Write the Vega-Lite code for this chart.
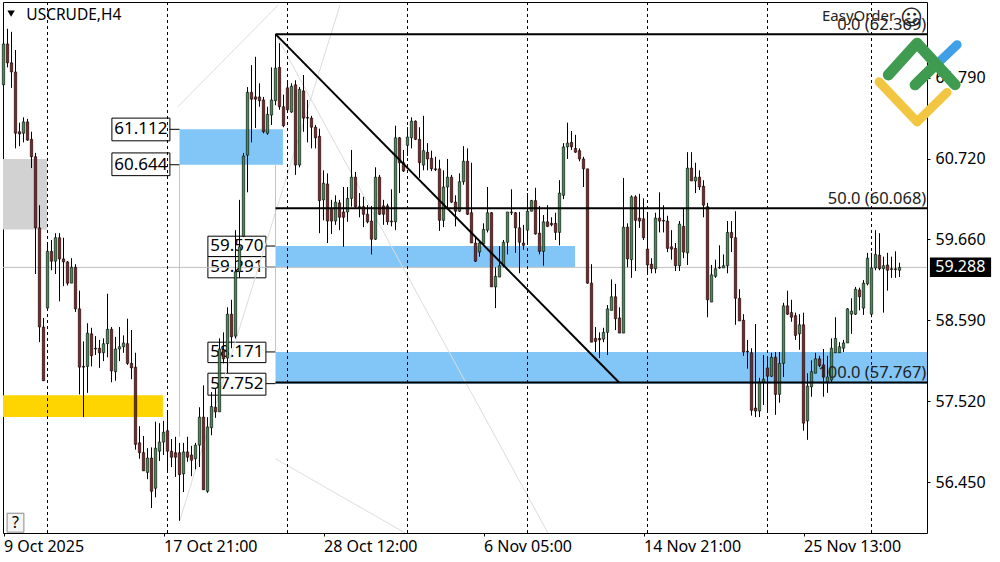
{"$schema":"https://vega.github.io/schema/vega-lite/v6.json","width":924,"height":531,"autosize":{"type":"none"},"padding":{"left":3,"top":2,"right":73,"bottom":29},"background":"#ffffff","view":{"stroke":"#000000","strokeWidth":1,"fill":"#ffffff"},"config":{"font":"Noto Sans"},
"datasets":{
"candles":[
{"i":0,"o":61.70,"h":62.25,"l":61.58,"c":62.24},{"i":1,"o":62.24,"h":62.44,"l":61.93,"c":61.99},{"i":2,"o":61.99,"h":62.40,"l":61.66,"c":61.87},{"i":3,"o":61.87,"h":62.16,"l":60.86,"c":61.06},{"i":4,"o":61.08,"h":61.20,"l":60.89,"c":61.05},{"i":5,"o":61.06,"h":61.27,"l":60.94,"c":61.21},{"i":6,"o":61.21,"h":61.25,"l":60.96,"c":60.97},{"i":7,"o":60.98,"h":61.08,"l":60.60,"c":60.75},{"i":8,"o":60.75,"h":60.80,"l":59.20,"c":59.81},{"i":9,"o":59.81,"h":60.11,"l":58.30,"c":58.50},
{"i":10,"o":58.50,"h":58.62,"l":57.79,"c":57.79},{"i":11,"o":58.75,"h":59.61,"l":58.72,"c":59.50},{"i":12,"o":59.50,"h":59.65,"l":59.25,"c":59.37},{"i":13,"o":59.37,"h":59.74,"l":59.20,"c":59.68},{"i":14,"o":59.68,"h":59.74,"l":58.84,"c":59.40},{"i":15,"o":59.40,"h":59.68,"l":59.04,"c":59.36},{"i":16,"o":59.36,"h":59.37,"l":59.05,"c":59.08},{"i":17,"o":59.08,"h":59.41,"l":59.08,"c":59.29},{"i":18,"o":59.29,"h":59.33,"l":58.70,"c":58.74},{"i":19,"o":58.74,"h":58.98,"l":57.61,"c":57.97},
{"i":20,"o":57.98,"h":58.31,"l":57.31,"c":57.97},{"i":21,"o":57.98,"h":58.55,"l":57.63,"c":58.42},{"i":22,"o":58.41,"h":58.49,"l":57.98,"c":58.12},{"i":23,"o":58.22,"h":58.38,"l":58.13,"c":58.21},{"i":24,"o":58.22,"h":58.33,"l":57.96,"c":58.16},{"i":25,"o":58.16,"h":58.35,"l":58.05,"c":58.28},{"i":26,"o":58.28,"h":58.94,"l":58.10,"c":58.47},{"i":27,"o":58.47,"h":58.50,"l":57.77,"c":57.92},{"i":28,"o":57.91,"h":58.37,"l":57.79,"c":58.21},{"i":29,"o":58.21,"h":58.50,"l":58.05,"c":58.24},
{"i":30,"o":58.24,"h":58.39,"l":58.16,"c":58.29},{"i":31,"o":58.28,"h":58.61,"l":58.00,"c":58.02},{"i":32,"o":58.02,"h":58.46,"l":57.81,"c":57.96},{"i":33,"o":57.97,"h":58.16,"l":56.88,"c":56.95},{"i":34,"o":56.97,"h":57.19,"l":56.76,"c":56.84},{"i":35,"o":56.84,"h":57.06,"l":56.60,"c":56.60},{"i":36,"o":56.58,"h":56.90,"l":56.49,"c":56.77},{"i":37,"o":56.77,"h":56.91,"l":56.11,"c":56.33},{"i":38,"o":56.37,"h":57.25,"l":56.25,"c":56.90},{"i":39,"o":56.86,"h":57.23,"l":56.73,"c":56.98},
{"i":40,"o":56.98,"h":57.26,"l":56.81,"c":57.11},{"i":41,"o":57.13,"h":57.40,"l":56.58,"c":56.86},{"i":42,"o":56.86,"h":57.02,"l":56.65,"c":56.78},{"i":43,"o":56.84,"h":57.05,"l":56.52,"c":56.78},{"i":44,"o":56.84,"h":56.97,"l":55.94,"c":56.55},{"i":45,"o":56.56,"h":56.97,"l":56.32,"c":56.85},{"i":46,"o":56.85,"h":57.05,"l":56.72,"c":56.78},{"i":47,"o":56.81,"h":56.93,"l":56.53,"c":56.74},{"i":48,"o":56.76,"h":56.97,"l":56.62,"c":56.94},{"i":49,"o":56.94,"h":57.44,"l":56.65,"c":57.31},
{"i":50,"o":57.31,"h":57.73,"l":56.35,"c":56.35},{"i":51,"o":56.33,"h":57.31,"l":56.31,"c":57.18},{"i":52,"o":57.17,"h":57.64,"l":57.07,"c":57.45},{"i":53,"o":57.44,"h":57.69,"l":57.30,"c":57.38},{"i":54,"o":57.38,"h":58.35,"l":57.38,"c":58.21},{"i":55,"o":58.20,"h":58.43,"l":58.02,"c":58.08},{"i":56,"o":58.09,"h":58.76,"l":57.89,"c":58.67},{"i":57,"o":58.67,"h":58.86,"l":58.22,"c":58.37},{"i":58,"o":58.38,"h":59.78,"l":58.35,"c":59.23},{"i":59,"o":59.23,"h":60.18,"l":59.15,"c":59.56},
{"i":60,"o":59.70,"h":60.80,"l":59.69,"c":60.76},{"i":61,"o":60.77,"h":61.67,"l":60.28,"c":61.60},{"i":62,"o":61.60,"h":61.96,"l":60.94,"c":61.51},{"i":63,"o":61.54,"h":62.07,"l":61.13,"c":61.51},{"i":64,"o":61.54,"h":61.72,"l":61.41,"c":61.49},{"i":65,"o":61.50,"h":61.54,"l":61.06,"c":61.08},{"i":66,"o":61.06,"h":61.41,"l":61.04,"c":61.31},{"i":67,"o":61.30,"h":61.93,"l":61.17,"c":61.50},{"i":68,"o":61.49,"h":62.37,"l":61.43,"c":61.92},{"i":69,"o":61.93,"h":62.25,"l":61.37,"c":61.41},
{"i":70,"o":61.41,"h":61.57,"l":61.14,"c":61.16},{"i":71,"o":61.66,"h":61.76,"l":61.34,"c":61.37},{"i":72,"o":61.34,"h":61.72,"l":61.33,"c":61.68},{"i":73,"o":61.70,"h":61.76,"l":60.51,"c":60.64},{"i":74,"o":60.64,"h":61.67,"l":60.61,"c":61.64},{"i":75,"o":61.62,"h":61.83,"l":61.08,"c":61.26},{"i":76,"o":61.27,"h":61.50,"l":60.94,"c":61.26},{"i":77,"o":61.26,"h":61.29,"l":60.86,"c":61.14},{"i":78,"o":61.14,"h":61.17,"l":60.86,"c":61.00},{"i":79,"o":61.02,"h":61.12,"l":59.74,"c":60.17},
{"i":80,"o":60.18,"h":60.57,"l":59.91,"c":60.40},{"i":81,"o":60.39,"h":60.53,"l":59.61,"c":59.90},{"i":82,"o":60.07,"h":60.18,"l":59.73,"c":59.90},{"i":83,"o":59.90,"h":60.24,"l":59.85,"c":60.15},{"i":84,"o":60.14,"h":60.18,"l":59.78,"c":59.95},{"i":85,"o":60.02,"h":60.35,"l":59.56,"c":59.95},{"i":86,"o":60.02,"h":60.35,"l":59.89,"c":60.20},{"i":87,"o":60.20,"h":60.84,"l":60.09,"c":60.48},{"i":88,"o":60.48,"h":60.55,"l":60.07,"c":60.09},{"i":89,"o":60.09,"h":60.27,"l":59.95,"c":60.07},
{"i":90,"o":60.09,"h":60.22,"l":59.82,"c":59.99},{"i":91,"o":59.99,"h":60.11,"l":59.87,"c":59.89},{"i":92,"o":59.90,"h":60.10,"l":59.46,"c":59.66},{"i":93,"o":59.66,"h":60.61,"l":59.65,"c":60.48},{"i":94,"o":60.48,"h":60.51,"l":59.98,"c":59.99},{"i":95,"o":60.10,"h":60.18,"l":59.85,"c":59.99},{"i":96,"o":60.10,"h":60.13,"l":59.85,"c":59.89},{"i":97,"o":59.90,"h":60.32,"l":59.83,"c":59.89},{"i":98,"o":59.89,"h":61.16,"l":59.78,"c":61.00},{"i":99,"o":61.00,"h":61.01,"l":60.27,"c":60.67},
{"i":100,"o":60.67,"h":60.84,"l":60.55,"c":60.56},{"i":101,"o":60.90,"h":61.14,"l":60.76,"c":61.01},{"i":102,"o":61.00,"h":61.27,"l":60.86,"c":61.22},{"i":103,"o":61.22,"h":61.23,"l":60.97,"c":60.98},{"i":104,"o":60.98,"h":61.14,"l":60.47,"c":60.67},{"i":105,"o":60.64,"h":61.29,"l":60.57,"c":60.83},{"i":106,"o":60.81,"h":60.93,"l":60.57,"c":60.72},{"i":107,"o":60.73,"h":60.83,"l":60.56,"c":60.59},{"i":108,"o":60.59,"h":60.75,"l":60.56,"c":60.58},{"i":109,"o":60.59,"h":60.71,"l":59.77,"c":59.91},
{"i":110,"o":59.91,"h":60.57,"l":59.82,"c":60.35},{"i":111,"o":60.35,"h":60.72,"l":60.05,"c":60.48},{"i":112,"o":60.48,"h":60.51,"l":60.14,"c":60.15},{"i":113,"o":60.15,"h":60.24,"l":59.83,"c":60.03},{"i":114,"o":60.03,"h":60.53,"l":60.02,"c":60.42},{"i":115,"o":60.42,"h":60.89,"l":60.38,"c":60.69},{"i":116,"o":60.69,"h":60.86,"l":59.98,"c":59.99},{"i":117,"o":60.01,"h":60.67,"l":59.61,"c":59.61},{"i":118,"o":59.61,"h":59.68,"l":59.36,"c":59.37},{"i":119,"o":59.49,"h":59.65,"l":59.43,"c":59.61},
{"i":120,"o":59.60,"h":59.87,"l":59.58,"c":59.79},{"i":121,"o":59.78,"h":60.35,"l":59.75,"c":60.01},{"i":122,"o":60.01,"h":60.02,"l":59.03,"c":59.03},{"i":123,"o":59.03,"h":59.29,"l":58.75,"c":59.17},{"i":124,"o":59.16,"h":59.57,"l":59.16,"c":59.31},{"i":125,"o":59.31,"h":59.65,"l":59.29,"c":59.62},{"i":126,"o":59.62,"h":60.02,"l":59.46,"c":60.02},{"i":127,"o":60.02,"h":60.32,"l":59.98,"c":60.01},{"i":128,"o":60.01,"h":60.02,"l":59.48,"c":59.81},{"i":129,"o":59.81,"h":60.02,"l":59.21,"c":59.62},
{"i":130,"o":59.61,"h":59.85,"l":59.52,"c":59.58},{"i":131,"o":59.78,"h":60.27,"l":59.62,"c":60.03},{"i":132,"o":60.03,"h":60.18,"l":60.03,"c":60.17},{"i":133,"o":60.17,"h":60.34,"l":59.72,"c":59.73},{"i":134,"o":59.74,"h":60.10,"l":59.46,"c":59.50},{"i":135,"o":59.50,"h":59.98,"l":59.31,"c":59.89},{"i":136,"o":59.89,"h":60.11,"l":59.82,"c":59.83},{"i":137,"o":59.87,"h":59.95,"l":59.83,"c":59.85},{"i":138,"o":59.87,"h":60.01,"l":59.65,"c":59.75},{"i":139,"o":59.75,"h":60.44,"l":59.58,"c":60.27},
{"i":140,"o":60.24,"h":60.93,"l":60.19,"c":60.88},{"i":141,"o":60.88,"h":61.20,"l":60.72,"c":60.93},{"i":142,"o":60.94,"h":61.09,"l":60.84,"c":60.88},{"i":143,"o":60.86,"h":61.04,"l":60.80,"c":60.81},{"i":144,"o":60.83,"h":60.86,"l":60.69,"c":60.72},{"i":145,"o":60.72,"h":60.75,"l":60.35,"c":60.59},{"i":146,"o":60.59,"h":60.59,"l":59.07,"c":59.08},{"i":147,"o":59.08,"h":59.33,"l":58.30,"c":58.30},{"i":148,"o":58.35,"h":58.50,"l":58.17,"c":58.31},{"i":149,"o":58.35,"h":58.43,"l":58.09,"c":58.33},
{"i":150,"o":58.34,"h":58.49,"l":58.30,"c":58.43},{"i":151,"o":58.43,"h":58.79,"l":58.13,"c":58.74},{"i":152,"o":58.72,"h":59.13,"l":58.72,"c":58.90},{"i":153,"o":58.90,"h":59.07,"l":58.46,"c":58.61},{"i":154,"o":58.62,"h":58.76,"l":58.42,"c":58.42},{"i":155,"o":58.42,"h":60.47,"l":58.42,"c":59.82},{"i":156,"o":59.82,"h":59.87,"l":59.29,"c":59.40},{"i":157,"o":59.39,"h":60.24,"l":59.15,"c":60.22},{"i":158,"o":60.22,"h":60.24,"l":59.24,"c":59.91},{"i":159,"o":59.94,"h":60.26,"l":59.81,"c":59.90},
{"i":160,"o":59.93,"h":60.20,"l":59.65,"c":59.68},{"i":161,"o":59.53,"h":60.02,"l":59.20,"c":59.32},{"i":162,"o":59.33,"h":59.41,"l":59.21,"c":59.27},{"i":163,"o":59.27,"h":60.01,"l":59.21,"c":59.94},{"i":164,"o":59.94,"h":60.28,"l":59.75,"c":59.90},{"i":165,"o":59.91,"h":60.11,"l":59.75,"c":59.90},{"i":166,"o":59.90,"h":59.97,"l":59.49,"c":59.54},{"i":167,"o":59.56,"h":59.78,"l":59.39,"c":59.53},{"i":168,"o":59.54,"h":59.61,"l":59.24,"c":59.31},{"i":169,"o":59.31,"h":59.90,"l":59.24,"c":59.86},
{"i":170,"o":59.83,"h":60.07,"l":59.41,"c":59.49},{"i":171,"o":59.48,"h":60.81,"l":59.32,"c":60.60},{"i":172,"o":60.60,"h":60.81,"l":60.43,"c":60.43},{"i":173,"o":60.43,"h":60.67,"l":60.27,"c":60.48},{"i":174,"o":60.48,"h":60.57,"l":60.31,"c":60.35},{"i":175,"o":60.36,"h":60.44,"l":59.95,"c":60.11},{"i":176,"o":60.09,"h":60.14,"l":58.63,"c":58.86},{"i":177,"o":58.83,"h":59.32,"l":58.83,"c":59.19},{"i":178,"o":59.17,"h":59.39,"l":59.15,"c":59.27},{"i":179,"o":59.29,"h":59.58,"l":59.27,"c":59.28},
{"i":180,"o":59.28,"h":59.46,"l":59.28,"c":59.31},{"i":181,"o":59.31,"h":59.90,"l":59.21,"c":59.75},{"i":182,"o":59.75,"h":59.90,"l":59.49,"c":59.68},{"i":183,"o":59.68,"h":60.03,"l":58.53,"c":58.88},{"i":184,"o":58.88,"h":59.00,"l":58.58,"c":58.58},{"i":185,"o":58.59,"h":58.67,"l":58.12,"c":58.17},{"i":186,"o":58.18,"h":58.33,"l":57.95,"c":58.17},{"i":187,"o":58.16,"h":58.22,"l":57.33,"c":57.40},{"i":188,"o":57.43,"h":58.54,"l":57.31,"c":57.39},{"i":189,"o":57.39,"h":57.83,"l":57.31,"c":57.77},
{"i":190,"o":57.77,"h":58.13,"l":57.47,"c":57.81},{"i":191,"o":57.96,"h":58.09,"l":57.40,"c":57.85},{"i":192,"o":57.85,"h":58.16,"l":57.84,"c":58.10},{"i":193,"o":58.10,"h":58.17,"l":57.34,"c":57.61},{"i":194,"o":57.61,"h":58.17,"l":57.50,"c":58.02},{"i":195,"o":58.02,"h":58.82,"l":57.84,"c":58.78},{"i":196,"o":58.78,"h":58.98,"l":58.66,"c":58.67},{"i":197,"o":58.69,"h":58.86,"l":58.57,"c":58.63},{"i":198,"o":58.65,"h":58.69,"l":58.33,"c":58.39},{"i":199,"o":58.41,"h":58.67,"l":58.20,"c":58.53},
{"i":200,"o":58.53,"h":58.69,"l":57.13,"c":57.23},{"i":201,"o":57.26,"h":57.89,"l":57.01,"c":57.72},{"i":202,"o":57.71,"h":58.06,"l":57.58,"c":57.91},{"i":203,"o":57.89,"h":58.16,"l":57.89,"c":58.08},{"i":204,"o":58.08,"h":58.12,"l":57.97,"c":57.99},{"i":205,"o":58.00,"h":58.21,"l":57.58,"c":57.84},{"i":206,"o":57.77,"h":58.12,"l":57.63,"c":57.84},{"i":207,"o":57.80,"h":58.35,"l":57.76,"c":58.22},{"i":208,"o":58.16,"h":58.63,"l":58.16,"c":58.35},{"i":209,"o":58.16,"h":58.30,"l":58.16,"c":58.24},
{"i":210,"o":58.22,"h":58.33,"l":58.17,"c":58.29},{"i":211,"o":58.29,"h":58.75,"l":58.29,"c":58.74},{"i":212,"o":58.67,"h":58.88,"l":58.41,"c":58.71},{"i":213,"o":58.67,"h":59.03,"l":58.66,"c":59.00},{"i":214,"o":58.99,"h":59.02,"l":58.72,"c":58.90},{"i":215,"o":58.75,"h":59.12,"l":58.66,"c":59.08},{"i":216,"o":59.07,"h":59.48,"l":59.05,"c":59.41},{"i":217,"o":58.67,"h":59.48,"l":58.63,"c":59.28},{"i":218,"o":59.28,"h":59.78,"l":59.25,"c":59.46},{"i":219,"o":59.45,"h":59.74,"l":59.25,"c":59.27},
{"i":220,"o":59.27,"h":59.43,"l":58.69,"c":59.31},{"i":221,"o":59.32,"h":59.48,"l":58.98,"c":59.25},{"i":222,"o":59.27,"h":59.43,"l":59.15,"c":59.26},{"i":223,"o":59.27,"h":59.50,"l":59.15,"c":59.26},{"i":224,"o":59.25,"h":59.35,"l":59.16,"c":59.288}
],
"zones":[
{"i":-0.125,"i2":10.9,"p":60.72,"p2":59.79,"color":"#d2d2d2"},
{"i":-0.125,"i2":39.85,"p":57.60,"p2":57.31,"color":"#ffd500"},
{"i":44,"i2":69.85,"p":61.112,"p2":60.644,"color":"#82c6f7"},
{"i":68,"i2":142.9,"p":59.570,"p2":59.291,"color":"#82c6f7"},
{"i":68,"i2":230.875,"p":58.171,"p2":57.752,"color":"#82c6f7"}
],
"tags":[
{"i":27.1,"i2":41.6,"p":61.26,"p2":60.96,"m":34.35,"pm":61.112,"end":44,"label":"61.112"},
{"i":27.1,"i2":41.6,"p":60.80,"p2":60.50,"m":34.35,"pm":60.644,"end":44,"label":"60.644"},
{"i":51.1,"i2":65.6,"p":59.70,"p2":59.43,"m":58.35,"pm":59.570,"end":68,"label":"59.570"},
{"i":51.1,"i2":65.6,"p":59.43,"p2":59.15,"m":58.35,"pm":59.291,"end":68,"label":"59.291"},
{"i":51.1,"i2":65.6,"p":58.30,"p2":58.03,"m":58.35,"pm":58.171,"end":68,"label":"58.171"},
{"i":51.1,"i2":65.6,"p":57.89,"p2":57.60,"m":58.35,"pm":57.752,"end":68,"label":"57.752"}
],
"seps":[{"i":11},{"i":41},{"i":71},{"i":101},{"i":131},{"i":161},{"i":191},{"i":217}],
"lines":[
{"k":"fib","id":"top","i":68,"p":62.369},{"k":"fib","id":"top","i":230.875,"p":62.369},
{"k":"fib","id":"mid","i":68,"p":60.068},{"k":"fib","id":"mid","i":230.875,"p":60.068},
{"k":"fib","id":"bot","i":68,"p":57.767},{"k":"fib","id":"bot","i":230.875,"p":57.767},
{"k":"fib","id":"diag","i":68,"p":62.369},{"k":"fib","id":"diag","i":153.9,"p":57.767},
{"k":"gray","id":"a","i":43.6,"p":61.41},{"k":"gray","id":"a","i":68.6,"p":62.75},
{"k":"gray","id":"b","i":44.1,"p":55.95},{"k":"gray","id":"b","i":84.1,"p":62.75},
{"k":"gray","id":"c","i":68,"p":62.369},{"k":"gray","id":"c","i":136.1,"p":55.78},
{"k":"gray","id":"d","i":68,"p":56.76},{"k":"gray","id":"d","i":100.4,"p":55.78},
{"k":"thin","id":"e","i":44,"p":60.644},{"k":"thin","id":"e","i":44,"p":57.05},
{"k":"thin","id":"f","i":68,"p":60.644},{"k":"thin","id":"f","i":68,"p":59.57},
{"k":"thin","id":"g","i":68,"p":59.291},{"k":"thin","id":"g","i":68,"p":58.171}
],
"logo":[
{"k":"y","i":218.9,"p":61.74},{"k":"y","i":228.4,"p":61.21},{"k":"y","i":235.9,"p":61.60},
{"k":"b","i":233.7,"p":61.99},{"k":"b","i":238.4,"p":62.23},
{"k":"g1","i":221.2,"p":61.83},{"k":"g1","i":228.4,"p":62.25},{"k":"g1","i":237.9,"p":61.70},
{"k":"g2","i":227.9,"p":61.70},{"k":"g2","i":232.9,"p":61.96}
],
"fibtext":[
{"i":230.7,"p":62.49,"label":"0.0 (62.369)"},
{"i":230.7,"p":60.19,"label":"50.0 (60.068)"},
{"i":230.7,"p":57.89,"label":"100.0 (57.767)"}
]
},
"layer":[
{"data":{"name":"zones"},"mark":{"type":"rect"},"encoding":{"x":{"field":"i","type":"quantitative","scale":{"domain":[-0.125,230.875],"nice":false,"zero":false,"padding":0},"axis":{"orient":"bottom","title":null,"grid":false,"domain":false,"values":[0,40,80,120,160,200],"labelExpr":"{'0':'9 Oct 2025','40':'17 Oct 21:00','80':'28 Oct 12:00','120':'6 Nov 05:00','160':'14 Nov 21:00','200':'25 Nov 13:00'}[''+datum.value]","labelAlign":"left","labelFontSize":16,"labelColor":"#000000","labelFont":"Noto Sans","tickSize":3,"tickColor":"#000000","labelPadding":2,"labelOverlap":false,"labelFlush":false,"labelBound":false}},"x2":{"field":"i2"},"y":{"field":"p","type":"quantitative","scale":{"domain":[55.779,62.794],"nice":false,"zero":false,"padding":0},"axis":{"orient":"right","title":null,"grid":false,"domain":false,"values":[61.79,60.72,59.66,58.59,57.52,56.45],"format":".3f","labelFontSize":16,"labelColor":"#000000","labelFont":"Noto Sans","tickSize":3,"tickColor":"#000000","labelPadding":5,"labelOverlap":false}},"y2":{"field":"p2"},"color":{"field":"color","type":"nominal","scale":null}}},
{"data":{"name":"tags"},"mark":{"type":"rule","color":"#000000","strokeWidth":1},"encoding":{"x":{"field":"i2","type":"quantitative"},"x2":{"field":"end"},"y":{"field":"pm","type":"quantitative"}}},
{"data":{"name":"tags"},"mark":{"type":"rect","fill":"#ffffff","stroke":"#000000","strokeWidth":1},"encoding":{"x":{"field":"i","type":"quantitative"},"x2":{"field":"i2"},"y":{"field":"p","type":"quantitative"},"y2":{"field":"p2"}}},
{"data":{"name":"tags"},"mark":{"type":"text","fontSize":17,"font":"Noto Sans","color":"#000000","align":"center","baseline":"middle"},"encoding":{"x":{"field":"m","type":"quantitative"},"y":{"field":"pm","type":"quantitative"},"text":{"field":"label"}}},
{"data":{"name":"lines"},"transform":[{"filter":"datum.k=='gray'"}],"mark":{"type":"line","color":"#dcdcdc","strokeWidth":1,"clip":true},"encoding":{"x":{"field":"i","type":"quantitative"},"y":{"field":"p","type":"quantitative"},"detail":{"field":"id"},"order":{"field":"i"}}},
{"data":{"name":"lines"},"transform":[{"filter":"datum.k=='thin'"}],"mark":{"type":"line","color":"#a9cce3","strokeWidth":1},"encoding":{"x":{"field":"i","type":"quantitative"},"y":{"field":"p","type":"quantitative"},"detail":{"field":"id"}}},
{"data":{"values":[{"p":59.288,"i":-0.125,"i2":230.875}]},"mark":{"type":"rule","color":"#c0c0c0","strokeWidth":1},"encoding":{"x":{"field":"i","type":"quantitative"},"x2":{"field":"i2"},"y":{"field":"p","type":"quantitative"}}},
{"data":{"name":"seps"},"mark":{"type":"rule","color":"#000000","strokeWidth":1,"strokeDash":[3,3]},"encoding":{"x":{"field":"i","type":"quantitative"}}},
{"data":{"name":"candles"},"mark":{"type":"rule","color":"#000000","strokeWidth":1},"encoding":{"x":{"field":"i","type":"quantitative"},"y":{"field":"h","type":"quantitative"},"y2":{"field":"l"}}},
{"data":{"name":"candles"},"mark":{"type":"bar","size":2.4,"stroke":"#000000","strokeWidth":0.6},"encoding":{"x":{"field":"i","type":"quantitative"},"y":{"field":"o","type":"quantitative"},"y2":{"field":"c"},"color":{"condition":{"test":"datum.c>=datum.o","value":"#3f8f50"},"value":"#8f1f1f"}}},
{"data":{"name":"lines"},"transform":[{"filter":"datum.k=='fib'"}],"mark":{"type":"line","color":"#000000","strokeWidth":2},"encoding":{"x":{"field":"i","type":"quantitative"},"y":{"field":"p","type":"quantitative"},"detail":{"field":"id"}}},
{"data":{"name":"fibtext"},"mark":{"type":"text","fontSize":16.5,"font":"Noto Sans","color":"#222222","align":"right","baseline":"middle"},"encoding":{"x":{"field":"i","type":"quantitative"},"y":{"field":"p","type":"quantitative"},"text":{"field":"label"}}},
{"data":{"values":[{"i":5.7,"p":62.62,"label":"USCRUDE,H4"}]},"mark":{"type":"text","fontSize":15.5,"font":"Noto Sans","color":"#000000","align":"left","baseline":"middle"},"encoding":{"x":{"field":"i","type":"quantitative"},"y":{"field":"p","type":"quantitative"},"text":{"field":"label"}}},
{"data":{"values":[{"i":1.9,"p":62.64}]},"mark":{"type":"point","shape":"triangle-down","filled":true,"color":"#000000","size":55,"opacity":1},"encoding":{"x":{"field":"i","type":"quantitative"},"y":{"field":"p","type":"quantitative"}}},
{"data":{"values":[{"i":222.9,"p":62.61,"label":"EasyOrder"}]},"mark":{"type":"text","fontSize":15,"font":"Noto Sans","color":"#222222","align":"right","baseline":"middle","clip":false},"encoding":{"x":{"field":"i","type":"quantitative"},"y":{"field":"p","type":"quantitative"},"text":{"field":"label"}}},
{"data":{"values":[{"i":227,"p":62.58,"label":"☺"}]},"mark":{"type":"text","fontSize":22,"font":"DejaVu Sans","color":"#222222","align":"center","baseline":"middle"},"encoding":{"x":{"field":"i","type":"quantitative"},"y":{"field":"p","type":"quantitative"},"text":{"field":"label"}}},
{"data":{"values":[{"i":0.9,"i2":5.1,"p":56.04,"p2":55.79}]},"mark":{"type":"rect","fill":"#f4f4f4","stroke":"#8a8a8a","strokeWidth":1},"encoding":{"x":{"field":"i","type":"quantitative"},"x2":{"field":"i2"},"y":{"field":"p","type":"quantitative"},"y2":{"field":"p2"}}},
{"data":{"values":[{"m":3,"pm":55.91,"label":"?"}]},"mark":{"type":"text","fontSize":16,"font":"Noto Sans","color":"#000000","align":"center","baseline":"middle"},"encoding":{"x":{"field":"m","type":"quantitative"},"y":{"field":"pm","type":"quantitative"},"text":{"field":"label"}}},
{"data":{"values":[{"i":231.6,"i2":246.9,"p":59.42,"p2":59.16}]},"mark":{"type":"rect","fill":"#000000","clip":false},"encoding":{"x":{"field":"i","type":"quantitative"},"x2":{"field":"i2"},"y":{"field":"p","type":"quantitative"},"y2":{"field":"p2"}}},
{"data":{"values":[{"i":239.2,"p":59.288,"label":"59.288"}]},"mark":{"type":"text","fontSize":16,"font":"Noto Sans","color":"#ffffff","align":"center","baseline":"middle"},"encoding":{"x":{"field":"i","type":"quantitative"},"y":{"field":"p","type":"quantitative"},"text":{"field":"label"}}},
{"data":{"name":"logo"},"transform":[{"filter":"datum.k=='b'"}],"mark":{"type":"line","color":"#3f9fe8","strokeWidth":9,"strokeCap":"round","strokeJoin":"round","clip":false},"encoding":{"x":{"field":"i","type":"quantitative"},"y":{"field":"p","type":"quantitative"}}},
{"data":{"name":"logo"},"transform":[{"filter":"datum.k=='y'"}],"mark":{"type":"line","color":"#f2c640","strokeWidth":9,"strokeCap":"round","strokeJoin":"round","clip":false},"encoding":{"x":{"field":"i","type":"quantitative"},"y":{"field":"p","type":"quantitative"},"order":{"field":"i"}}},
{"data":{"name":"logo"},"transform":[{"filter":"datum.k=='g1'||datum.k=='g2'"}],"mark":{"type":"line","color":"#3f9b4f","strokeWidth":11,"strokeCap":"round","strokeJoin":"round","clip":false},"encoding":{"x":{"field":"i","type":"quantitative"},"y":{"field":"p","type":"quantitative"},"detail":{"field":"k"},"order":{"field":"i"}}}
]}
